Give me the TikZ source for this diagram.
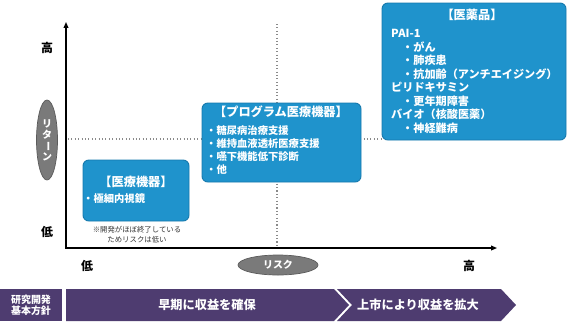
\documentclass[tikz,border=0pt]{standalone}
\usepackage{fontspec}
\setmainfont{Noto Sans CJK JP}
\usetikzlibrary{arrows.meta,calc,fit,shapes.geometric}
\definecolor{Sea}{HTML}{1F93CC}
\definecolor{SeaEdge}{HTML}{1679AD}
\definecolor{Plum}{HTML}{4E3C70}
\definecolor{Stone}{HTML}{7A7A7A}
\definecolor{Dots}{HTML}{8A8A8A}
\definecolor{Note}{HTML}{333333}

\begin{document}
\begin{tikzpicture}[x=0.03cm,y=-0.03cm,
    axis/.style={line width=1pt,{Triangle[length=5pt,width=4pt]}-{Triangle[length=5pt,width=4pt]}},
    guide/.style={Dots,dotted,line width=0.9pt},
    card/.style={draw=SeaEdge,fill=Sea,line width=0.8pt,rounded corners=5pt,inner sep=0pt},
    head/.style={text=white,inner sep=0pt,font=\fontsize{10.4}{12}\selectfont\bfseries},
    item/.style={anchor=west,text=white,inner sep=0pt,font=\fontsize{8.8}{11}\selectfont\bfseries},
    tag/.style={ellipse,fill=Stone,draw=Stone!75!black,line width=0.6pt,text=white,inner sep=0pt,font=\fontsize{8.5}{9.4}\selectfont\bfseries},
    level/.style={inner sep=0pt,font=\fontsize{10.2}{12}\selectfont\bfseries},
    bandtext/.style={text=white,inner sep=0pt,font=\fontsize{10.4}{12}\selectfont\bfseries}]
    \useasboundingbox (0,0) rectangle (567,322);

    % axes and guides
    \coordinate (O) at (66,248);
    \coordinate (ytip) at (66,22);
    \coordinate (xtip) at (497,248);
    \coordinate (midL) at (68,139);
    \coordinate (midT) at (277,24);

    \node[card,fit={(382,3) (566,140)}] (drug) {};
    \draw[guide] (midL) -- (midL -| drug.west);
    \draw[guide] (midT) -- ($(midT |- O)+(0,-2)$);
    \draw[axis] (ytip) -- (O) -- (xtip);

    \node[level] (yhi) at (47,48) {高};
    \node[level] (ylo) at (47,232) {低};
    \node[level] (xlo) at (87,266) {低};
    \node[level] (xhi) at (469,266) {高};
    \node[tag,minimum width=0.63cm,minimum height=2.4cm,align=center] (ret) at (47,140)
      {リ\\タ\\\rotatebox[origin=c]{-90}{ー}\\ン};
    \node[tag,minimum width=2.4cm,minimum height=0.6cm] (risk) at (278,265) {リスク};

    % boxes
    \node[card,fit={(83,160) (189,221)}] (dev) {};
    \node[head] (devT) at (136,182) {【医療機器】};
    \node[item] (dev1) at (83,199) {・極細内視鏡};
    \node[text=Note,align=center,inner sep=0pt,font=\fontsize{6.3}{8.5}\selectfont] (devN) at (137,235)
      {※開発がほぼ終了している\\ためリスクは低い};

    \node[card,fit={(202,103) (361,182)}] (prog) {};
    \node[head] (progT) at (281,112) {【プログラム医療機器】};
    \foreach \t [count=\i] in {糖尿病治療支援,維持血液透析医療支援,嚥下機能低下診断,他}
      \node[item] (prog\i) at (206,{118+13*\i}) {・\t};

    \node[head] (drugT) at (472,15) {【医薬品】};
    \foreach \x/\t [count=\i] in {391/PAI-1,402/・がん,402/・肺疾患,402/・抗加齢（アンチエイジング）,
        391/ピリドキサミン,402/・更年期障害,391/バイオ（核酸医薬）,402/・神経難病}
      \node[item,font=\fontsize{9.5}{11}\selectfont\bfseries] (drug\i) at (\x,{19.4+13.6*\i}) {\t};

    % policy band
    \fill[Plum] (0,289) rectangle (62,321);
    \fill[Plum] (66,289) -- (334,289) -- (349,305) -- (334,321) -- (66,321) -- cycle;
    \fill[Plum] (337,289) -- (501,289) -- (516,305) -- (501,321) -- (337,321) -- (352,305) -- cycle;
    \node[bandtext,align=center,font=\fontsize{8.5}{9.6}\selectfont\bfseries] (policy) at (31,305) {研究開発\\基本方針};
    \node[bandtext] (early) at (207,305) {早期に収益を確保};
    \node[bandtext] (launch) at (418,305) {上市により収益を拡大};
\end{tikzpicture}
\end{document}
